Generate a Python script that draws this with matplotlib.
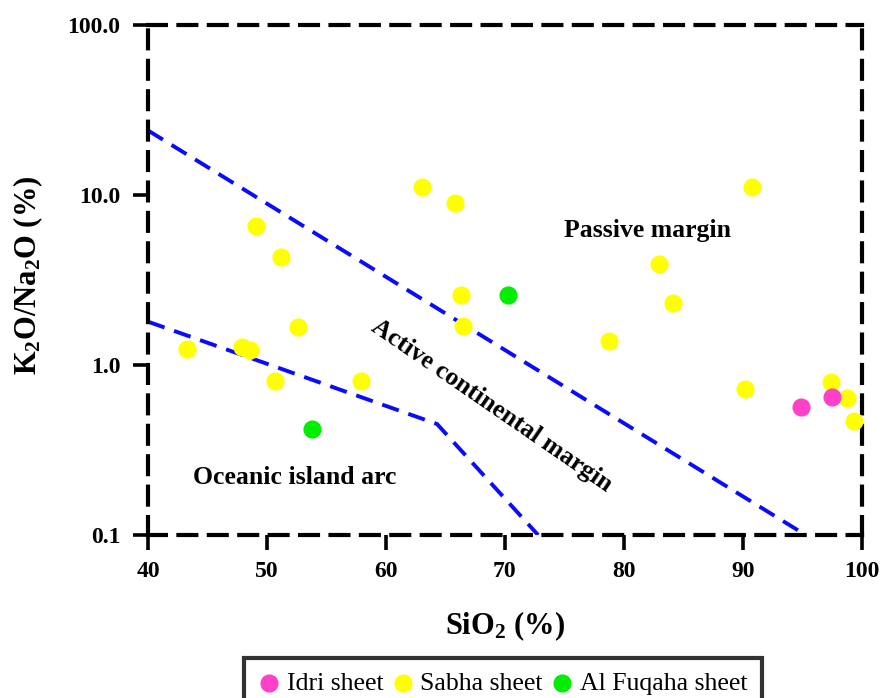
import numpy as np
import matplotlib
matplotlib.use('Agg')
import matplotlib.pyplot as plt
from matplotlib.ticker import FixedLocator, FixedFormatter, NullLocator

plt.rcParams['font.family'] = ['Liberation Serif', 'DejaVu Serif']
plt.rcParams['mathtext.fontset'] = 'custom'
plt.rcParams['mathtext.rm'] = 'Liberation Serif:bold'
plt.rcParams['mathtext.it'] = 'Liberation Serif:bold'
plt.rcParams['mathtext.bf'] = 'Liberation Serif:bold'

# sample data
idri_sio2 = [94.9, 97.5]
idri_ratio = [0.57, 0.65]

sabha_sio2 = [63.05, 65.8, 49.1, 51.15, 66.35, 66.45, 52.6, 43.25, 47.9, 48.6,
              50.7, 57.9, 90.8, 83.0, 84.1, 78.8, 90.2, 97.45, 98.8, 99.4]
sabha_ratio = [11.1, 9.0, 6.6, 4.33, 2.58, 1.70, 1.67, 1.25, 1.28, 1.22,
               0.81, 0.81, 11.1, 3.92, 2.33, 1.38, 0.72, 0.79, 0.64, 0.47]

fuqaha_sio2 = [70.3, 53.8]
fuqaha_ratio = [2.58, 0.42]

# field boundaries
pm_acm_x = [40, 95.3]
pm_acm_y = [24.0, 0.1]
acm_oia_x = [40, 64.3, 72.8]
acm_oia_y = [1.8, 0.45, 0.1]

fig = plt.figure(figsize=(8.81, 6.98), dpi=100)
ax = fig.add_axes([0.168, 0.2335, 0.810, 0.7305])

blue = '#0a0aff'
ax.plot(pm_acm_x, pm_acm_y, color=blue, lw=2.8, ls=(0, (4.5, 2.6)))
ax.plot(acm_oia_x, acm_oia_y, color=blue, lw=2.8, ls=(0, (4.5, 2.6)))

ms = 145
ax.scatter(sabha_sio2, sabha_ratio, s=ms, color='#ffff00', zorder=3, label='Sabha sheet')
ax.scatter(idri_sio2, idri_ratio, s=ms, color='#ff40c8', zorder=3, label='Idri sheet')
ax.scatter(fuqaha_sio2, fuqaha_ratio, s=ms, color='#00ee00', zorder=3, label='Al Fuqaha sheet')

ax.set_yscale('log')
ax.set_xlim(40, 100)
ax.set_ylim(0.1, 100)

ax.xaxis.set_major_locator(FixedLocator([40, 50, 60, 70, 80, 90, 100]))
ax.yaxis.set_major_locator(FixedLocator([0.1, 1, 10, 100]))
ax.yaxis.set_major_formatter(FixedFormatter(['0.1', '1.0', '10.0', '100.0']))
ax.yaxis.set_minor_locator(NullLocator())
ax.tick_params(axis='both', which='major', direction='out', length=11, width=2.6,
               labelsize=17, color='black')
ax.tick_params(axis='x', pad=8)
ax.tick_params(axis='y', pad=9)
for lab in ax.get_xticklabels() + ax.get_yticklabels():
    lab.set_fontweight('bold')

for sp in ax.spines.values():
    sp.set_linestyle((0, (4.3, 3.0)))
    sp.set_linewidth(3)

ax.set_xlabel('SiO$_2$ (%)', fontsize=22, fontweight='bold')
ax.set_ylabel('K$_2$O/Na$_2$O (%)', fontsize=22, fontweight='bold')
ax.xaxis.set_label_coords(0.5, -0.145)
ax.yaxis.set_label_coords(-0.145, 0.51)

ax.text(82.0, 6.2, 'Passive margin', fontsize=18.5, fontweight='bold', ha='center', va='center')
ax.text(52.3, 0.218, 'Oceanic island arc', fontsize=18.5, fontweight='bold', ha='center', va='center')
ax.text(68.9, 0.58, 'Active continental margin', fontsize=18.5, fontweight='bold',
        ha='center', va='center', rotation=-34.5, rotation_mode='anchor')

handles, labels = ax.get_legend_handles_labels()
order = [1, 0, 2]
leg = fig.legend([handles[i] for i in order], [labels[i] for i in order],
                 loc='upper center', bbox_to_anchor=(0.571, 0.058), ncol=3,
                 fontsize=18.5, frameon=True, fancybox=False, edgecolor='black',
                 handlelength=0.8, handletextpad=0.3, columnspacing=0.35,
                 borderpad=0.55, borderaxespad=0, markerscale=1.0)
leg.get_frame().set_linewidth(3)

fig.savefig('out.png', dpi=100)
